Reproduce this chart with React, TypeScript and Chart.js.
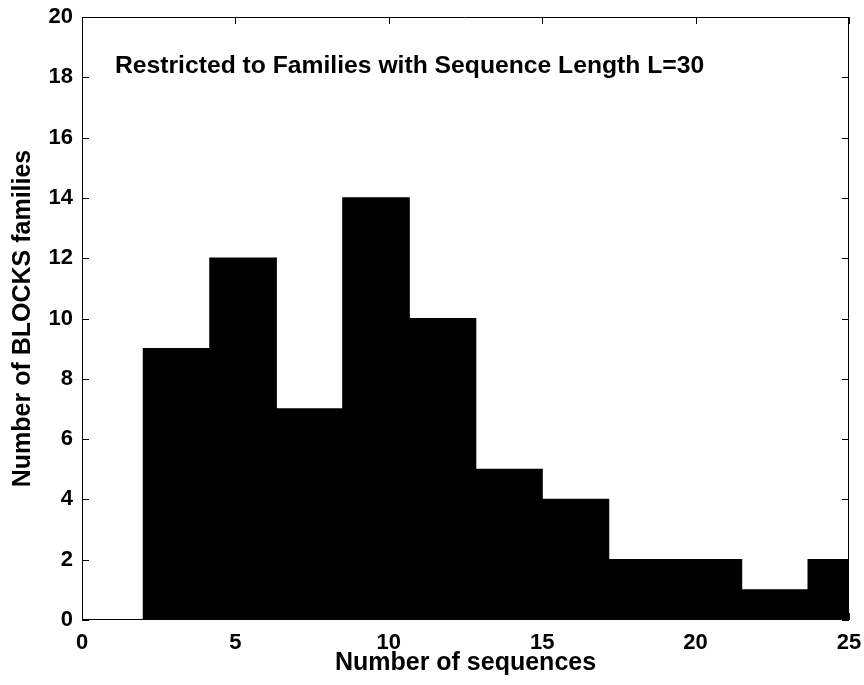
import React, { useEffect, useRef } from "react";
import { Chart, registerables } from "chart.js";

Chart.register(...registerables);

// Histogram bin centres (number of sequences) and counts
const binCenters = [3.083, 5.25, 7.417, 9.583, 11.75, 13.917, 16.083, 18.25, 20.417, 22.583, 24.75];
const familyCounts = [9, 12, 7, 14, 10, 5, 4, 2, 2, 1, 2];

const xTicks = [0, 5, 10, 15, 20, 25];
const yTicks = [0, 2, 4, 6, 8, 10, 12, 14, 16, 18, 20];

const titleText = "Restricted to Families with Sequence Length L=30";
const titlePos = { x: 1.075, y: 18.15 };
const xTitle = "Number of sequences";
const yTitle = "Number of BLOCKS families";

const FONT = "'Liberation Sans', Arial, Helvetica, sans-serif";

const boxPlugin = {
  id: "matlabBox",
  afterDatasetsDraw(chart: any) {
    const { ctx, chartArea: a, scales } = chart;
    const xs = scales.x;
    const ys = scales.y;
    const tl = 7;
    ctx.save();
    ctx.strokeStyle = "#000";
    ctx.lineWidth = 1;
    ctx.beginPath();
    ctx.rect(a.left + 0.5, a.top + 0.5, a.right - a.left - 1, a.bottom - a.top - 1);
    ctx.stroke();
    ctx.beginPath();
    for (const v of xTicks) {
      const px = Math.round(xs.getPixelForValue(v)) + 0.5;
      ctx.moveTo(px, a.bottom);
      ctx.lineTo(px, a.bottom - tl);
      ctx.moveTo(px, a.top);
      ctx.lineTo(px, a.top + tl);
    }
    for (const v of yTicks) {
      const py = Math.round(ys.getPixelForValue(v)) + 0.5;
      ctx.moveTo(a.left, py);
      ctx.lineTo(a.left + tl, py);
      ctx.moveTo(a.right, py);
      ctx.lineTo(a.right - tl, py);
    }
    ctx.stroke();
    // in-plot text annotation
    ctx.fillStyle = "#000";
    ctx.font = `bold 24.7px ${FONT}`;
    ctx.textAlign = "left";
    ctx.textBaseline = "alphabetic";
    ctx.fillText(titleText, xs.getPixelForValue(titlePos.x), ys.getPixelForValue(titlePos.y));
    ctx.restore();
  },
};

export default function App() {
  const ref = useRef<HTMLCanvasElement | null>(null);

  useEffect(() => {
    document.body.style.margin = "0";
    const canvas = ref.current;
    if (!canvas) return;
    const chart = new Chart(canvas, {
      type: "bar",
      data: {
        datasets: [
          {
            data: binCenters.map((x, i) => ({ x, y: familyCounts[i] })),
            backgroundColor: "#000",
            borderWidth: 0,
            inflateAmount: 0.6,
            barPercentage: 1,
            categoryPercentage: 1,
            clip: 0,
          } as any,
        ],
      },
      options: {
        responsive: false,
        animation: false,
        devicePixelRatio: 1,
        layout: { padding: { left: 0, right: 15, top: 17, bottom: 0 } },
        plugins: {
          legend: { display: false },
          tooltip: { enabled: false },
          title: { display: false },
        },
        scales: {
          x: {
            type: "linear",
            offset: false,
            min: 0,
            max: 25,
            afterBuildTicks: (s: any) => {
              s.ticks = xTicks.map((v) => ({ value: v }));
            },
            afterFit: (s: any) => {
              s.height = 65;
              s.paddingLeft = 0;
              s.paddingRight = 0;
              s.paddingTop = 0;
              s.paddingBottom = 0;
            },
            grid: { display: false, drawTicks: false },
            border: { display: false },
            ticks: {
              color: "#000",
              padding: 10,
              maxRotation: 0,
              autoSkip: false,
              font: { family: FONT, size: 22, weight: "bold" },
            },
            title: {
              display: true,
              text: xTitle,
              color: "#000",
              font: { family: FONT, size: 25, weight: "bold" },
              padding: { top: 0, bottom: 7 },
            },
          },
          y: {
            min: 0,
            max: 20,
            afterBuildTicks: (s: any) => {
              s.ticks = yTicks.map((v) => ({ value: v }));
            },
            afterFit: (s: any) => {
              s.width = 82;
              s.paddingLeft = 0;
              s.paddingRight = 0;
              s.paddingTop = 0;
              s.paddingBottom = 0;
            },
            grid: { display: false, drawTicks: false },
            border: { display: false },
            ticks: {
              color: "#000",
              padding: 9,
              autoSkip: false,
              font: { family: FONT, size: 22, weight: "bold" },
            },
            title: {
              display: true,
              text: yTitle,
              color: "#000",
              font: { family: FONT, size: 25, weight: "bold" },
              padding: { top: 8, bottom: 0 },
            },
          },
        },
      },
      plugins: [boxPlugin],
    } as any);
    return () => chart.destroy();
  }, []);

  return <canvas ref={ref} width={864} height={685} style={{ display: "block" }} />;
}
